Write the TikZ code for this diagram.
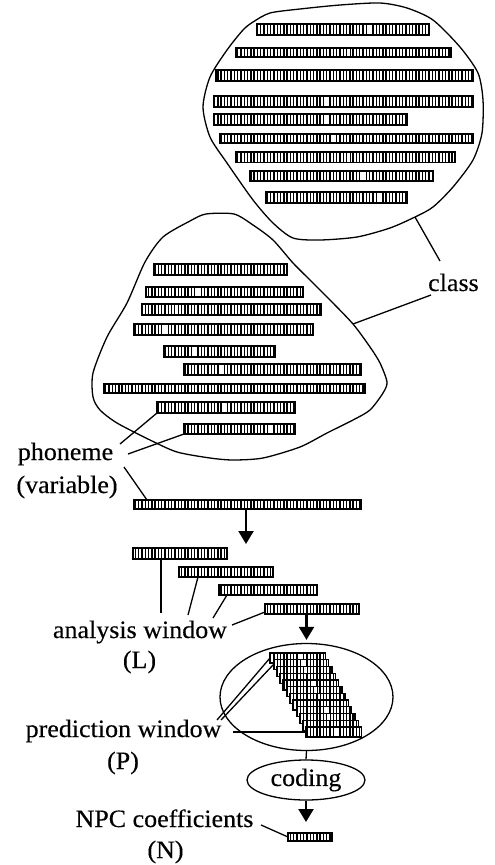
\documentclass[tikz,border=0pt]{standalone}
\usepackage{fontspec}
\setmainfont{Liberation Serif}[FakeStretch=1.04,FakeBold=0.3]
\usetikzlibrary{arrows.meta,patterns.meta,shapes.geometric}
\begin{document}
\begin{tikzpicture}[x=1pt,y=-1pt,
  seg/.style={draw, line width=1.3pt, inner sep=0pt, outer sep=0pt, anchor=north west,
    minimum height=10pt, preaction={fill=white},
    pattern={Lines[angle=90,distance=3.3pt,line width=1.4pt]}},
  wcell/.style={path picture={\fill[white] ([xshift=#1pt+0.7pt]path picture bounding box.south west) rectangle ([xshift=#1pt+2.6pt]path picture bounding box.north west);}},
  blob/.style={draw, line width=1.3pt, line join=round},
  con/.style={draw, line width=1.3pt},
  arr/.style={line width=2.2pt, -{Triangle[length=13pt,width=15pt]}},
  lbl/.style={font=\fontsize{25}{30}\selectfont, inner sep=0pt},
  oval/.style={draw, ellipse, line width=1.3pt, inner sep=0pt}
]
\useasboundingbox (0,0) rectangle (495,865);

% class blob
\draw[blob] plot[smooth cycle, tension=0.45] coordinates {
 (253,22) (270,13) (300,9) (340,5) (380,3) (407,8) (433,20) (460,47) (478,73)
 (483,100) (482,133) (473,160) (453,187) (433,207) (415,217) (390,228) (357,237)
 (320,240) (293,238) (273,223) (253,200) (227,163) (210,137) (203,107) (210,77)
 (227,50) (243,30)};
% phoneme blob
\draw[blob] plot[smooth cycle, tension=0.45] coordinates {
 (206,214) (234,214) (253,225) (273,240) (293,263) (310,280) (330,300) (353,324)
 (370,347) (380,363) (387,382) (383,393) (370,410) (353,420) (327,433) (300,447)
 (263,458) (233,460) (210,458) (177,452) (150,440) (117,423) (100,410) (93,397)
 (93,373) (107,337) (127,303) (145,262) (163,237) (190,221)};

% class bars
\node[seg, wcell=111, minimum width=172pt, minimum height=11pt] (c1) at (257,24) {};
\node[seg, wcell=111, minimum width=215pt, minimum height=9pt] (c2) at (236,48) {};
\node[seg, minimum width=257pt, minimum height=11pt] (c3) at (216,70) {};
\node[seg, wcell=111, minimum width=259pt, minimum height=11pt] (c4) at (214,96) {};
\node[seg, wcell=111, minimum width=193pt, minimum height=11pt] (c5) at (214,114) {};
\node[seg, wcell=111, minimum width=253pt, minimum height=9pt] (c6) at (220,134) {};
\node[seg, wcell=111, minimum width=219pt, minimum height=10.5pt] (c7) at (236,152) {};
\node[seg, wcell=111, minimum width=183pt, minimum height=10pt] (c8) at (250,171) {};
\node[seg, wcell=111, minimum width=141pt, minimum height=11pt] (c9) at (266,192) {};

% phoneme bars
\node[seg, wcell=73, minimum width=133pt, minimum height=11pt] (p1) at (154,264) {};
\node[seg, wcell=50, minimum width=157pt, minimum height=10pt] (p2) at (146,287) {};
\node[seg, wcell=32, minimum width=179pt, minimum height=11pt] (p3) at (142,304) {};
\node[seg, wcell=29, minimum width=179pt, minimum height=11pt] (p4) at (134,324) {};
\node[seg, wcell=29, minimum width=111pt, minimum height=11pt] (p5) at (164,346) {};
\node[seg, wcell=35, minimum width=177pt, minimum height=11pt] (p6) at (184,364) {};
\node[seg, minimum width=261pt, minimum height=9pt] (p7) at (104,384) {};
\node[seg, wcell=66, minimum width=138pt, minimum height=11pt] (p8) at (157,402) {};
\node[seg, wcell=85, minimum width=111pt, minimum height=10pt] (p9) at (184,424) {};

% long bar and analysis windows
\node[seg, minimum width=227pt, minimum height=9pt] (L) at (134,500) {};
\node[seg, minimum width=94pt, minimum height=11pt] (A1) at (133,548) {};
\node[seg, minimum width=94pt, minimum height=10pt] (A2) at (179,567) {};
\node[seg, minimum width=98pt, minimum height=10pt] (A3) at (219,585) {};
\node[seg, minimum width=94pt, minimum height=10pt] (A4) at (265,604) {};

% ellipses
\node[oval, minimum width=173pt, minimum height=107pt] (pe) at (306.5,697) {};
\node[oval, lbl, minimum width=118pt, minimum height=40pt] (cod) at (306,780) {coding};

% prediction stack
\foreach \i in {1,...,12} {
  \node[seg, wcell=28, minimum width=55.5pt, minimum height=10pt] (s\i) at ({270+3.27*(\i-1)},{653+6.73*(\i-1)}) {};
}

% NPC bar
\node[seg, minimum width=44pt, minimum height=8pt] (n) at (288,833) {};

% labels
\node[lbl, anchor=base west] (cls) at (428,291) {class};
\node[lbl, anchor=base] (ph) at (65.5,460) {phoneme};
\node[lbl, anchor=base] (var) at (67,493) {(variable)};
\node[lbl, anchor=base] (aw) at (140,638) {analysis window};
\node[lbl, anchor=base] (awL) at (139.5,668) {(L)};
\node[lbl, anchor=base] (pw) at (123.5,737) {prediction window};
\node[lbl, anchor=base] (pwP) at (123,769) {(P)};
\node[lbl, anchor=base] (npc) at (164.5,827) {NPC coefficients};
\node[lbl, anchor=base] (npcN) at (165.5,858) {(N)};

% free ends
\coordinate (cb) at (415,217);
\coordinate (pb) at (353,324);
\coordinate (cl1) at (440,261);
\coordinate (cl2) at (431,295);
\coordinate (ph1) at (120,444);
\coordinate (ph2) at (128,454);
\coordinate (ph3) at (124,467);
\coordinate (aw1) at (161,613);
\coordinate (aw2) at (188,615);
\coordinate (aw3) at (213,618);
\coordinate (aw4) at (232,625);
\coordinate (pw1) at (217,720);
\coordinate (pw2) at (221,720);
\coordinate (pw3) at (233,0);
\coordinate (np1) at (261,825);
\coordinate (t1) at (246,544);

% connectors
\draw[con] (cb) -- (cl1);
\draw[con] (pb) -- (cl2);
\draw[con] (ph1) -- (p8.south west);
\draw[con] (ph2) -- (p9.south west);
\draw[con] (ph3) -- ([xshift=13pt]L.north west);
\draw[con] (aw1) -- (aw1 |- A1.south);
\draw[con] (aw2) -- ([xshift=19pt]A2.south west);
\draw[con] (aw3) -- ([xshift=8pt]A3.south west);
\draw[con] (aw4) -- ([yshift=2pt]A4.south west);
\draw[con] (pw1) -- (s1.west);
\draw[con] (pw2) -- (s2.west);
\draw[con] (pw3 |- s12.west) -- (s12.west);
\draw[con] (np1) -- (n.west);

% arrows
\draw[arr] (t1 |- L.south) -- (t1);
\draw[arr] (pe.north |- A4.south) -- ([yshift=3pt]pe.north);
\draw[con] (pe.south) -- (cod.north);
\draw[arr] (cod.south) -- ([yshift=11pt]cod.south |- n.north);
\end{tikzpicture}
\end{document}
